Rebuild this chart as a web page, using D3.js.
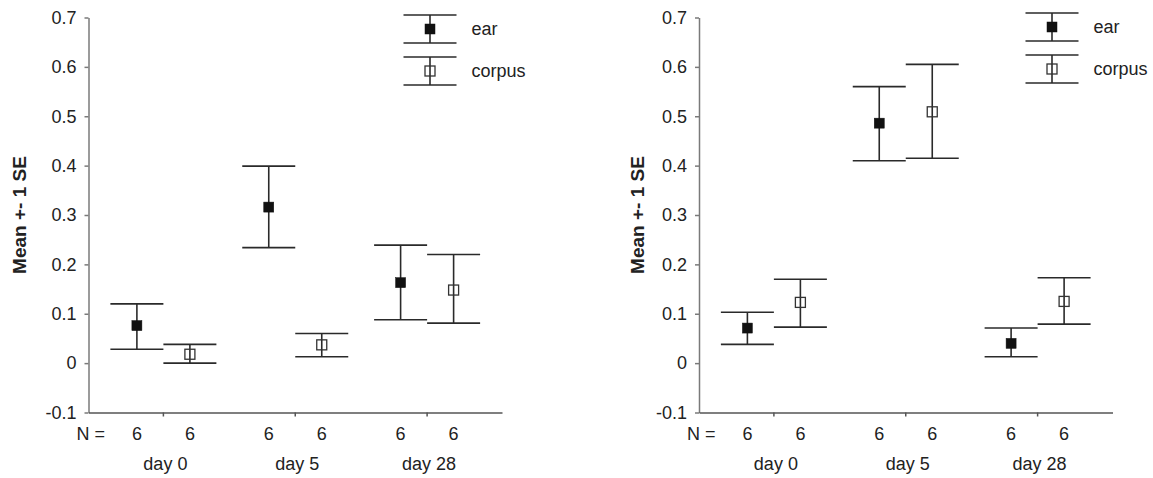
<!DOCTYPE html>
<html>
<head>
<meta charset="utf-8">
<script src="https://cdn.jsdelivr.net/npm/d3@7"></script>
<style>
  body { margin: 0; background: #fff; }
  svg { display: block; }
  text { font-family: "Liberation Sans", Arial, sans-serif; fill: #222; }
</style>
</head>
<body>
<svg id="chart" width="1153" height="478"></svg>
<script>
// categories
const days = ["day 0", "day 5", "day 28"];
const groups = ["ear", "corpus"];
const yTicks = [-0.1, 0, 0.1, 0.2, 0.3, 0.4, 0.5, 0.6, 0.7];
const yTickLabels = ["-0.1", "0", "0.1", "0.2", "0.3", "0.4", "0.5", "0.6", "0.7"];
const nCounts = [6, 6, 6, 6, 6, 6]; // ear, corpus per day

// left panel
const earMeanA = [0.076, 0.316, 0.163];
const earLowA = [0.028, 0.234, 0.088];
const earHighA = [0.120, 0.399, 0.239];
const corpusMeanA = [0.018, 0.037, 0.148];
const corpusLowA = [0.0, 0.013, 0.081];
const corpusHighA = [0.038, 0.060, 0.220];

// right panel
const earMeanB = [0.071, 0.486, 0.040];
const earLowB = [0.038, 0.410, 0.013];
const earHighB = [0.103, 0.560, 0.071];
const corpusMeanB = [0.123, 0.509, 0.125];
const corpusLowB = [0.073, 0.415, 0.079];
const corpusHighB = [0.170, 0.605, 0.173];

const svg = d3.select("#chart");

const lineColor = "#2a2a2a";
const axisColor = "#7a7a7a";
const capHalf = 26.5;
const markerSize = 10;

// shared scales (panel-local coordinates)
const y = d3.scaleLinear().domain([-0.1, 0.7]).range([412.5, 17.5]);
const x = d3.scaleBand().domain(days).range([88.5, 502]).paddingInner(0).paddingOuter(0.068);
const xSub = d3.scalePoint().domain(groups).range([-capHalf, capHalf]);

const cx = (day, grp) => x(day) + x.bandwidth() / 2 + xSub(grp);

const buildRows = (means, lows, highs, grp) =>
  days.map((d, i) => ({ day: d, group: grp, mean: means[i], low: lows[i], high: highs[i] }));

function drawMarker(g, px, py, grp) {
  g.append("rect")
    .attr("x", px - markerSize / 2)
    .attr("y", py - markerSize / 2)
    .attr("width", markerSize)
    .attr("height", markerSize)
    .attr("fill", grp === "ear" ? "#111" : "none")
    .attr("stroke", grp === "ear" ? "#111" : "#333")
    .attr("stroke-width", grp === "ear" ? 0.5 : 1.3);
}

function drawErrorBar(g, px, yTop, yBottom) {
  g.append("line")
    .attr("x1", px).attr("x2", px)
    .attr("y1", yTop).attr("y2", yBottom)
    .attr("stroke", lineColor).attr("stroke-width", 1.6);
  [yTop, yBottom].forEach((yy) => {
    g.append("line")
      .attr("x1", px - capHalf).attr("x2", px + capHalf)
      .attr("y1", yy).attr("y2", yy)
      .attr("stroke", lineColor).attr("stroke-width", 1.6);
  });
}

function drawPanel(offsetX, rows, legendPos, titleX) {
  const g = svg.append("g").attr("transform", `translate(${offsetX},0)`);

  // y axis
  const yAxis = g.append("g")
    .attr("transform", `translate(${x.range()[0]},0)`)
    .call(
      d3.axisLeft(y)
        .tickValues(yTicks)
        .tickSize(4)
        .tickSizeOuter(0)
        .tickPadding(8)
        .tickFormat((d, i) => yTickLabels[i])
    );
  yAxis.select(".domain").attr("stroke", axisColor).attr("stroke-width", 1.5);
  yAxis.selectAll(".tick line").attr("stroke", axisColor).attr("stroke-width", 1.5);
  yAxis.selectAll(".tick text")
    .style("font-size", "18px")
    .style("font-family", '"Liberation Sans", Arial, sans-serif')
    .attr("fill", "#222");

  // x axis
  const xAxis = g.append("g")
    .attr("transform", `translate(0,${y(-0.1)})`)
    .call(d3.axisBottom(x).tickSize(4).tickSizeOuter(0).tickFormat(""));
  xAxis.select(".domain").attr("stroke", "#555").attr("stroke-width", 1.5);
  xAxis.selectAll(".tick line").attr("stroke", "#555").attr("stroke-width", 1.5);

  // y title
  g.append("text")
    .attr("transform", `translate(${titleX},${(y(0.7) + y(-0.1)) / 2}) rotate(-90)`)
    .attr("text-anchor", "middle")
    .attr("dominant-baseline", "middle")
    .style("font-size", "19px")
    .style("font-weight", "bold")
    .text("Mean +- 1 SE");

  // error bars and markers
  rows.forEach((r) => {
    const px = cx(r.day, r.group);
    drawErrorBar(g, px, y(r.high), y(r.low));
    drawMarker(g, px, y(r.mean), r.group);
  });

  // N row
  g.append("text")
    .attr("x", x.range()[0] - 12)
    .attr("y", 440)
    .style("font-size", "18px")
    .text("N =");
  rows.forEach((r, i) => {
    g.append("text")
      .attr("x", cx(r.day, r.group))
      .attr("y", 440)
      .attr("text-anchor", "middle")
      .style("font-size", "18px")
      .text(nCounts[i]);
  });

  // day labels
  days.forEach((d) => {
    g.append("text")
      .attr("x", x(d) + x.bandwidth() / 2 + 2)
      .attr("y", 470)
      .attr("text-anchor", "middle")
      .style("font-size", "18px")
      .text(d);
  });

  // legend
  const lg = svg.append("g").attr("transform", `translate(${legendPos[0]},${legendPos[1]})`);
  groups.forEach((grp, i) => {
    const top = i * 42;
    drawErrorBar(lg, 0, top, top + 28);
    drawMarker(lg, 0, top + 14, grp);
    lg.append("text")
      .attr("x", capHalf + 15)
      .attr("y", top + 20)
      .style("font-size", "18px")
      .text(grp);
  });
}

const rowsA = [
  ...buildRows(earMeanA, earLowA, earHighA, "ear"),
  ...buildRows(corpusMeanA, corpusLowA, corpusHighA, "corpus"),
].sort((a, b) => days.indexOf(a.day) - days.indexOf(b.day) || groups.indexOf(a.group) - groups.indexOf(b.group));

const rowsB = [
  ...buildRows(earMeanB, earLowB, earHighB, "ear"),
  ...buildRows(corpusMeanB, corpusLowB, corpusHighB, "corpus"),
].sort((a, b) => days.indexOf(a.day) - days.indexOf(b.day) || groups.indexOf(a.group) - groups.indexOf(b.group));

drawPanel(0, rowsA, [430, 15], 21);
drawPanel(610.5, rowsB, [1052, 13], 28);
</script>
</body>
</html>
